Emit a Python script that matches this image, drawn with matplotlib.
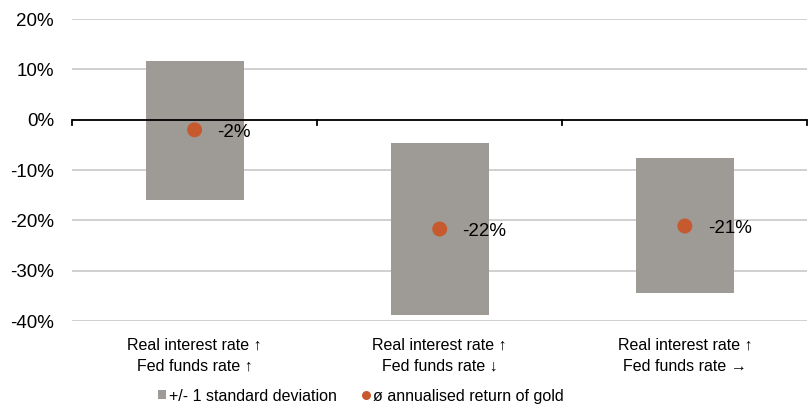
import matplotlib
matplotlib.use("Agg")
import matplotlib.pyplot as plt
from matplotlib.ticker import PercentFormatter
from matplotlib.lines import Line2D
from matplotlib.patches import Patch

plt.rcParams['font.family'] = ['Liberation Sans', 'DejaVu Sans']
plt.rcParams['axes.unicode_minus'] = False

categories = ["Real interest rate ↑\nFed funds rate ↑",
              "Real interest rate ↑\nFed funds rate ↓",
              "Real interest rate ↑\nFed funds rate →"]
sd_upper = [11.7, -4.6, -7.6]
sd_lower = [-15.9, -38.8, -34.4]
avg_return = [-2.0, -21.7, -21.1]
avg_labels = ["-2%", "-22%", "-21%"]
yticks = [20, 10, 0, -10, -20, -30, -40]

gray = "#9E9A96"
orange = "#C65A2E"

fig = plt.figure(figsize=(8.09, 4.05), dpi=100)
ax = fig.add_axes([0.089, 0.207, 0.909, 0.746])

x = list(range(len(categories)))
heights = [u - l for u, l in zip(sd_upper, sd_lower)]
ax.bar(x, heights, bottom=sd_lower, width=0.4, color=gray, zorder=2)
ax.scatter(x, avg_return, s=116, color=orange, zorder=4, edgecolors='none')
for xi, yi, lab in zip(x, avg_return, avg_labels):
    ax.annotate(lab, (xi, yi), xytext=(16.5, -2), textcoords='offset points',
                ha='left', va='center', fontsize=13.5, color='black', zorder=5)

ax.set_xlim(-0.5, 2.5)
ax.set_ylim(-40, 20)
ax.set_yticks(yticks)
ax.yaxis.set_major_formatter(PercentFormatter(decimals=0))
ax.grid(axis='y', color='#C8C8C8', linewidth=1.2, zorder=0)
for s in ['top', 'right', 'left', 'bottom']:
    ax.spines[s].set_visible(False)
ax.tick_params(axis='y', length=0, labelsize=13.5, pad=13)
ax.axhline(0, color='black', linewidth=1.3, zorder=3)
for b in [-0.5, 0.5, 1.5, 2.5]:
    ax.plot([b, b], [0, -1.0], color='black', linewidth=1.3, zorder=3, clip_on=False)
ax.set_xticks(x)
ax.set_xticklabels(categories, fontsize=11.5, linespacing=1.5)
ax.tick_params(axis='x', length=0, pad=12)

handles = [Patch(facecolor=gray, edgecolor='none', label='+/- 1 standard deviation'),
           Line2D([], [], marker='o', linestyle='none', markerfacecolor=orange,
                  markeredgecolor='none', markersize=6.5, label='ø annualised return of gold')]
fig.legend(handles=handles, loc='center left', bbox_to_anchor=(0.178, 0.022), ncol=2,
           frameon=False, prop={'size': 11.5}, handlelength=0.5,
           handleheight=0.5, handletextpad=0.15, columnspacing=1.6)

fig.savefig("out.png", dpi=100)
